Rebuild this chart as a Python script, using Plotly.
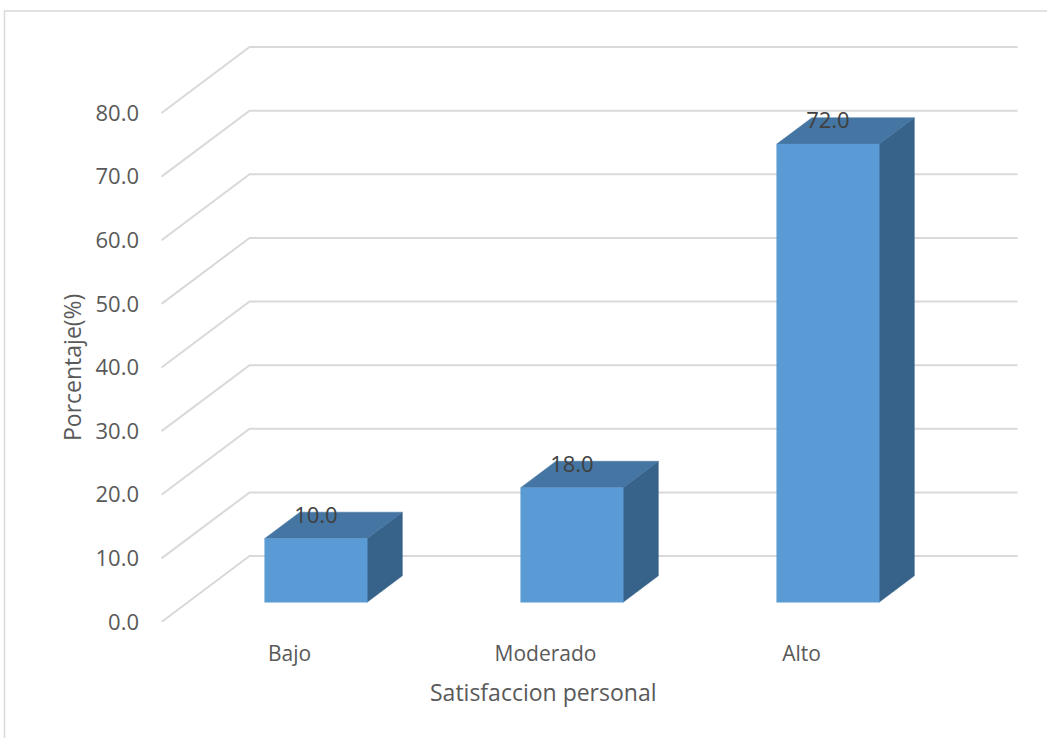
import plotly.graph_objects as go

# Data
categories = ["Bajo", "Moderado", "Alto"]
percentages = [10.0, 18.0, 72.0]
y_ticks = [0, 10, 20, 30, 40, 50, 60, 70, 80]
y_tick_labels = [f"{v:.1f}" for v in y_ticks]

# Oblique projection of the 3-D box: moving from the front plane (depth 0)
# to the back wall (depth 1) shifts a point right by DX (category units)
# and up by DY (value units).
DX = 0.344
DY = 10.37
BAR_W = 0.4            # bar width in category units
D0, D1 = 0.3, 0.7      # bar depth slab inside the box
LABEL_D = 0.62         # depth at which the value labels sit
X_MIN, X_MAX = -0.5, 2.5

FRONT = "#5B9BD5"
TOP = "#4575A2"
SIDE = "#37638A"
GRID = "#D9D9D9"
TEXT = "#595959"
FONT = "Open Sans"


def proj(x, y, d):
    return x + d * DX, y + d * DY


fig = go.Figure()

# Gridlines: diagonals on the left side wall plus horizontals on the back wall
gx, gy = [], []
for v in y_ticks:
    x0, y0 = proj(X_MIN, v, 0)
    x1, y1 = proj(X_MIN, v, 1)
    x2, y2 = proj(X_MAX, v, 1)
    gx += [x0, x1, x2, None]
    gy += [y0, y1, y2, None]
fig.add_trace(go.Scatter(x=gx, y=gy, mode="lines",
                         line=dict(color=GRID, width=2),
                         hoverinfo="skip", showlegend=False, cliponaxis=False))


def poly(pts, color):
    xs = [p[0] for p in pts] + [pts[0][0]]
    ys = [p[1] for p in pts] + [pts[0][1]]
    fig.add_trace(go.Scatter(x=xs, y=ys, mode="lines", fill="toself",
                             fillcolor=color, line=dict(color=color, width=0.5),
                             hoverinfo="skip", showlegend=False, cliponaxis=False))


# 3-D columns
for i, v in enumerate(percentages):
    xl, xr = i - BAR_W / 2, i + BAR_W / 2
    side = [proj(xr, 0, D0), proj(xr, v, D0), proj(xr, v, D1), proj(xr, 0, D1)]
    top = [proj(xl, v, D0), proj(xr, v, D0), proj(xr, v, D1), proj(xl, v, D1)]
    front = [proj(xl, 0, D0), proj(xr, 0, D0), proj(xr, v, D0), proj(xl, v, D0)]
    poly(side, SIDE)
    poly(top, TOP)
    poly(front, FRONT)

# Value labels sitting over the top face of each column
lx = [proj(i, v, D0)[0] for i, v in enumerate(percentages)]
ly = [proj(i, v, LABEL_D)[1] for i, v in enumerate(percentages)]
fig.add_trace(go.Scatter(x=lx, y=ly, mode="text",
                         text=[f"{v:.1f}" for v in percentages],
                         textposition="middle center",
                         textfont=dict(family=FONT, size=22, color="#404040"),
                         hoverinfo="skip", showlegend=False, cliponaxis=False))

L, R, T, B = 150, 1030, 25, 622
W, H = 1047, 738
px_per_cat = 256.0
px_per_val = 6.3625
cat0_px = 289.5

fig.update_layout(
    width=W, height=H,
    margin=dict(l=L, r=W - R, t=T, b=H - B),
    paper_bgcolor="white", plot_bgcolor="white",
    font=dict(family=FONT, color=TEXT),
    xaxis=dict(range=[(L - cat0_px) / px_per_cat, (R - cat0_px) / px_per_cat],
               tickvals=list(range(len(categories))), ticktext=categories,
               showgrid=False, zeroline=False, showline=False, ticks="",
               tickfont=dict(family=FONT, size=21, color=TEXT),
               ticklabelstandoff=17, fixedrange=True),
    yaxis=dict(range=[0, (B - T) / px_per_val],
               tickvals=y_ticks, ticktext=y_tick_labels,
               showgrid=False, zeroline=False, showline=False, ticks="",
               tickfont=dict(family=FONT, size=22, color=TEXT),
               ticklabelstandoff=10, fixedrange=True),
    annotations=[
        dict(text="Porcentaje(%)", textangle=-90, showarrow=False,
             xref="paper", yref="paper",
             x=(72 - L) / (R - L), y=(B - 368) / (B - T),
             xanchor="center", yanchor="middle",
             font=dict(family=FONT, size=23, color=TEXT)),
        dict(text="Satisfaccion personal", showarrow=False,
             xref="paper", yref="paper",
             x=(543 - L) / (R - L), y=(B - 692) / (B - T),
             xanchor="center", yanchor="middle",
             font=dict(family=FONT, size=23, color=TEXT)),
    ],
    shapes=[
        dict(type="rect", xref="paper", yref="paper",
             x0=(4.5 - L) / (R - L), x1=(W + 20 - L) / (R - L),
             y0=(B - (H + 20)) / (B - T), y1=(B - 11) / (B - T),
             line=dict(color=GRID, width=1.5), fillcolor="rgba(0,0,0,0)",
             layer="below"),
    ],
)

fig.write_html("out.html")
